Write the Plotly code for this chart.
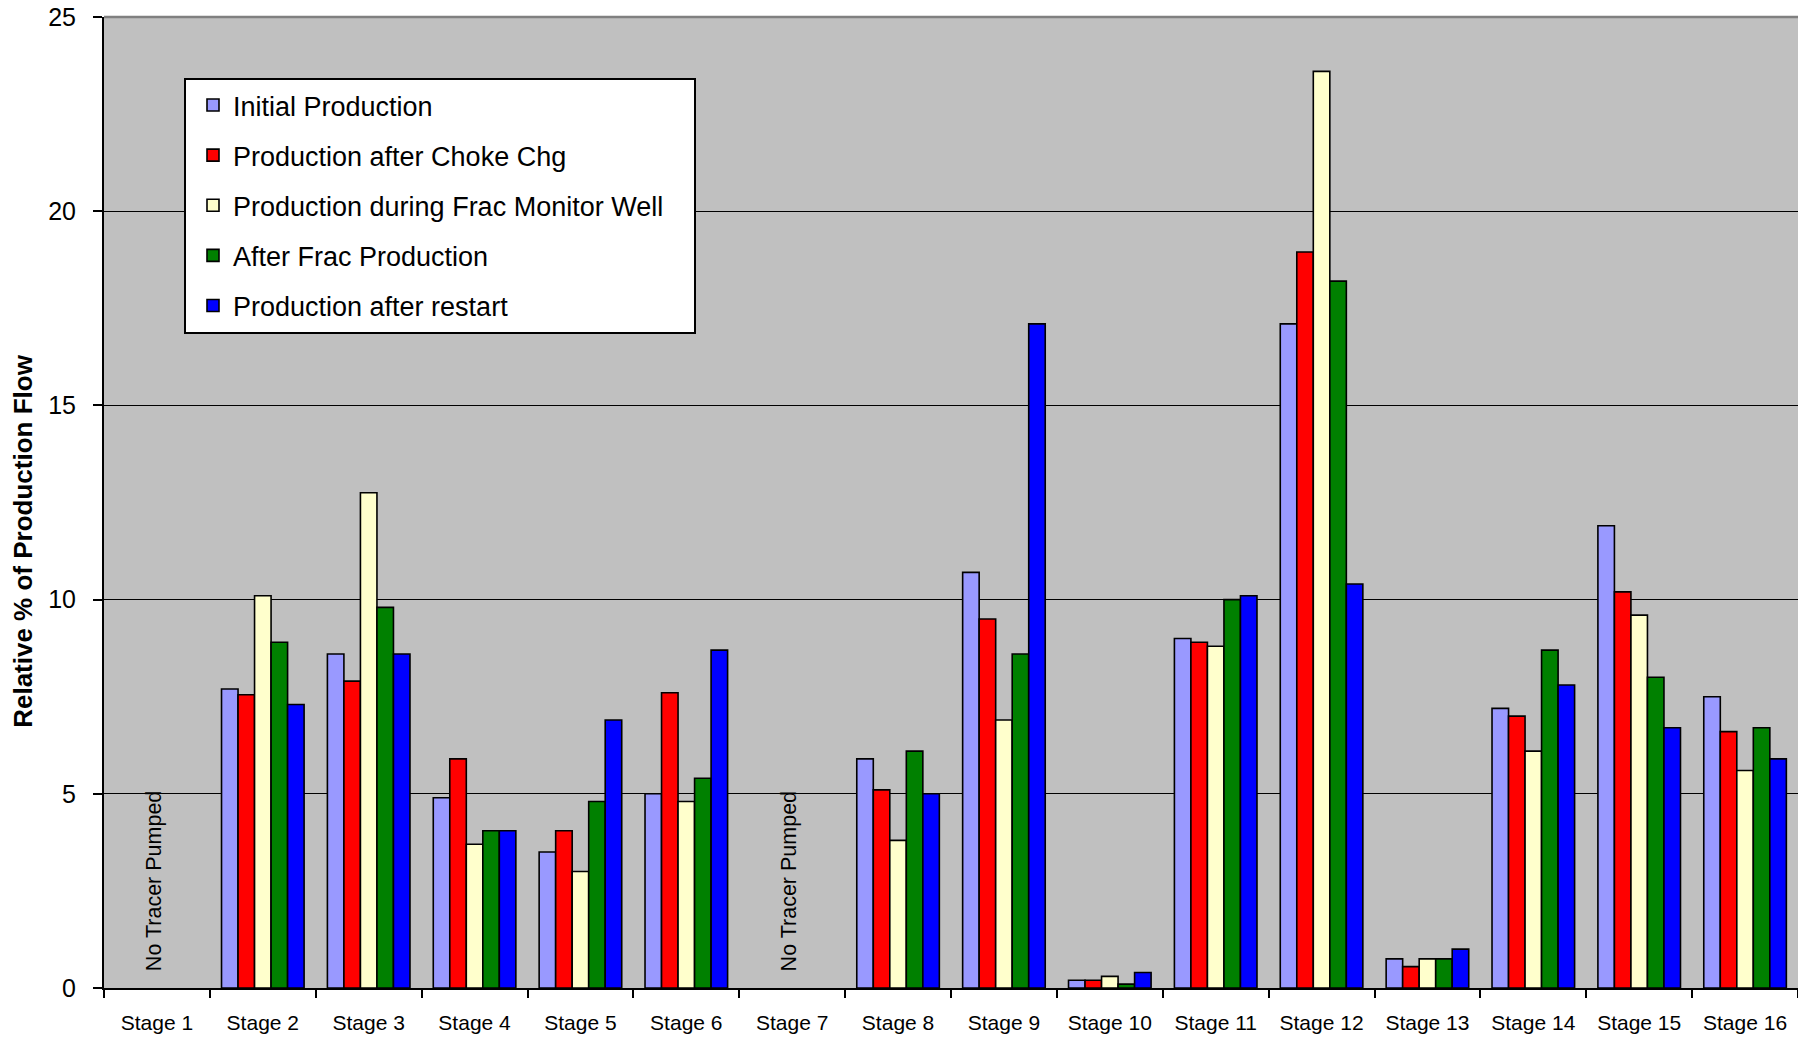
import plotly.graph_objects as go

# Relative share of production flow per frac stage, for five production periods
stages = [f"Stage {i}" for i in range(1, 17)]

initial_production = [None, 7.7, 8.6, 4.9, 3.5, 5.0, None, 5.9, 10.7, 0.2, 9.0, 17.1, 0.75, 7.2, 11.9, 7.5]
after_choke_chg = [None, 7.55, 7.9, 5.9, 4.05, 7.6, None, 5.1, 9.5, 0.2, 8.9, 18.95, 0.55, 7.0, 10.2, 6.6]
during_frac_monitor = [None, 10.1, 12.75, 3.7, 3.0, 4.8, None, 3.8, 6.9, 0.3, 8.8, 23.6, 0.75, 6.1, 9.6, 5.6]
after_frac = [None, 8.9, 9.8, 4.05, 4.8, 5.4, None, 6.1, 8.6, 0.1, 10.0, 18.2, 0.75, 8.7, 8.0, 6.7]
after_restart = [None, 7.3, 8.6, 4.05, 6.9, 8.7, None, 5.0, 17.1, 0.4, 10.1, 10.4, 1.0, 7.8, 6.7, 5.9]

series = [
    ("Initial Production", initial_production, "#9999FF"),
    ("Production after Choke Chg", after_choke_chg, "#FF0000"),
    ("Production during Frac Monitor Well", during_frac_monitor, "#FFFFCC"),
    ("After Frac Production", after_frac, "#008000"),
    ("Production after restart", after_restart, "#0000FF"),
]

no_tracer_stages = ["Stage 1", "Stage 7"]

FONT = "Liberation Sans, Arial, sans-serif"

# plotting-area geometry in pixels, used to place the legend frame
W, H = 1798, 1038
ML, MR, MT, MB = 104, 0, 17, 50
PW, PH = W - ML - MR, H - MT - MB


def px_x(x):
    return (x - ML) / PW


def px_y(y):
    return (H - MB - y) / PH


fig = go.Figure()
for i, (name, values, color) in enumerate(series):
    fig.add_trace(go.Bar(
        x=stages,
        y=values,
        name=name,
        legendgroup=f"g{i}",
        marker=dict(color=color, line=dict(color="black", width=1.6)),
    ))

for st in no_tracer_stages:
    fig.add_annotation(
        x=st, y=2.75, xref="x", yref="y",
        text="No Tracer Pumped", textangle=-90, showarrow=False,
        xshift=-3,
        font=dict(family=FONT, size=21.5, color="black"),
    )

# vertical axis title, set a little below the middle of the plotting area
fig.add_annotation(
    x=px_x(23), xref="paper", xanchor="center", y=0.4595, yref="paper", yanchor="middle",
    text="<b>Relative % of Production Flow</b>", textangle=-90, showarrow=False,
    font=dict(family=FONT, size=26, color="black"),
)

# grey rule along the top of the plotting area
fig.add_shape(type="line", xref="paper", yref="paper", x0=0, x1=1, y0=1, y1=1,
              line=dict(color="#808080", width=2.5), layer="above")

# white framed box behind the legend entries
fig.add_shape(type="rect", xref="paper", yref="paper",
              x0=px_x(185), x1=px_x(695), y0=px_y(333), y1=px_y(79),
              fillcolor="white", line=dict(color="black", width=2), layer="above")

fig.update_layout(
    width=W, height=H,
    margin=dict(l=ML, r=MR, t=MT, b=MB),
    paper_bgcolor="white",
    plot_bgcolor="#C0C0C0",
    barmode="group",
    bargap=0.22,
    bargroupgap=0,
    font=dict(family=FONT, color="black"),
    showlegend=True,
    legend=dict(
        x=px_x(193), y=px_y(81), xanchor="left", yanchor="top",
        bgcolor="rgba(0,0,0,0)", borderwidth=0,
        font=dict(family=FONT, size=27, color="black"),
        traceorder="grouped", tracegroupgap=12,
    ),
    xaxis=dict(
        type="category",
        showline=True, linecolor="black", linewidth=2,
        ticks="outside", tickson="boundaries", ticklen=8, tickcolor="black", tickwidth=1.5,
        tickfont=dict(family=FONT, size=21, color="black"),
        ticklabelstandoff=15,
        showgrid=False,
    ),
    yaxis=dict(
        range=[0, 25], dtick=5,
        showline=True, linecolor="black", linewidth=2,
        ticks="outside", ticklen=9, tickcolor="black", tickwidth=1.5,
        tickfont=dict(family=FONT, size=25, color="black"),
        ticklabelstandoff=12,
        showgrid=True, gridcolor="black", gridwidth=1.3,
        zeroline=False,
    ),
)

fig.write_html("out.html")
